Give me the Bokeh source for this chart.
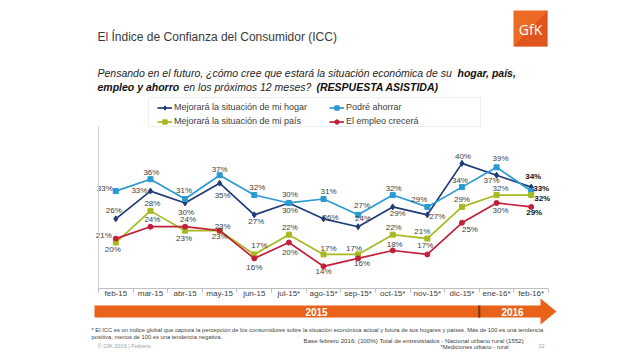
from bokeh.plotting import figure
from bokeh.models import (Range1d, FixedTicker, Legend, LegendItem, Label,
                          BoxAnnotation, PolyAnnotation, ColumnDataSource)
from bokeh.core.properties import value
from bokeh.embed import file_html
from bokeh.resources import INLINE

# ---------------- data ----------------
months = ["feb-15", "mar-15", "abr-15", "may-15", "jun-15", "jul-15*", "ago-15*",
          "sep-15*", "oct-15*", "nov-15*", "dic-15*", "ene-16*", "feb-16*"]
hogar = [26, 33, 30, 35, 27, 30, 26, 24, 29, 27, 40, 37, 34]
ahorro = [33, 36, 31, 37, 32, 30, 31, 27, 32, 29, 34, 39, 33]
pais = [20, 28, 23, 23, 17, 22, 17, 17, 22, 21, 29, 32, 32]
empleo = [21, 24, 24, 23, 16, 20, 14, 16, 18, 17, 25, 30, 29]
series_names = ["Mejorará la situación de mi hogar", "Podré ahorrar",
                "Mejorará la situación de mi país", "El empleo crecerá"]
years = ["2015", "2016"]

# ---------------- label placement (screen px, +dy = down) ----------------
off_hogar = [(-2, -8), (-11, -1), (1, 10), (3, 12), (2, 7), (1, 8), (7, -1),
             (5, -8), (5, 7), (10, 2), (1, -7), (-5, 5), (2, -11)]
off_ahorro = [(-11, -3), (1, -7), (-1, -8), (0, -6), (3, -8), (1, -8), (5, -7),
              (4, -9), (1, -7), (-8, -7), (-2, -7), (4, -9), (10, -3)]
off_pais = [(-3, 7), (2, -7), (-1, 8), (0, 6), (5, -9), (1, -7), (5, -6),
            (-4, -6), (1, -7), (-5, -7), (0, -7), (4, -7), (11, 3)]
off_empleo = [(-12, -3), (2, -7), (3, -7), (3, -4), (0, 9), (1, 10), (0, 5),
              (4, 5), (2, -6), (-2, -9), (8, 7), (4, 8), (3, 6)]

colors = ["#1F3C78", "#2B9AD3", "#A7B91F", "#C21F3A"]
markers = ["diamond", "square", "square", "circle"]
msizes = [6, 5, 5, 5]

# ---------------- page geometry ----------------
W, H = 632, 349
PL, PR, PB = 98, 548, 288          # chart area left / right / bottom (px)
YMIN, YMAX = 8.4, 48.8             # value span of the chart area
PX_PER_UNIT = 160 / (YMAX - YMIN)
n = len(months)
CAT = (PR - PL) / n
x0 = -0.5 - PL / CAT
x1 = n - 0.5 + (W - PR) / CAT
y0 = YMIN - (H - PB) / PX_PER_UNIT
y1 = YMIN + PB / PX_PER_UNIT

p = figure(width=W, height=H, x_range=Range1d(x0, x1), y_range=Range1d(y0, y1),
           output_backend="svg", toolbar_location=None,
           min_border_left=0, min_border_right=0, min_border_top=0, min_border_bottom=0)
p.title.visible = False
p.outline_line_color = None
p.xgrid.visible = False
p.ygrid.visible = False
p.background_fill_color = "white"
p.border_fill_color = "white"

xs = list(range(n))
xa = p.xaxis[0]
xa.fixed_location = YMIN
xa.bounds = (-0.5, n - 0.5)
xa.ticker = FixedTicker(ticks=xs, minor_ticks=[i - 0.5 for i in range(n + 1)])
xa.major_label_overrides = {i: m for i, m in enumerate(months)}
xa.major_tick_out = 0
xa.major_tick_in = 0
xa.minor_tick_out = 4
xa.minor_tick_in = 0
xa.axis_line_color = "#BFBFBF"
xa.minor_tick_line_color = "#BFBFBF"
xa.major_label_text_font = "Liberation Sans"
xa.major_label_text_font_size = "8px"
xa.major_label_text_color = "#404040"
xa.major_label_standoff = -4

ya = p.yaxis[0]
ya.fixed_location = -0.5
ya.bounds = (YMIN, YMIN + (PB - 126) / PX_PER_UNIT)
ya.ticker = FixedTicker(ticks=[])
ya.axis_line_color = "#D0D0D0"
ya.major_tick_line_color = None
ya.minor_tick_line_color = None

all_vals = [hogar, ahorro, pais, empleo]
all_offs = [off_hogar, off_ahorro, off_pais, off_empleo]
items = []
lab = dict(x=[], y=[], text=[], dx=[], dy=[], style=[], color=[])
for name, vals, offs, col, mk, ms in zip(series_names, all_vals, all_offs, colors, markers, msizes):
    rl = p.line(xs, vals, line_color=col, line_width=1.7)
    rm = p.scatter(xs, vals, marker=mk, size=ms, fill_color=col, line_color=col)
    items.append(LegendItem(label=name, renderers=[rl, rm]))
    last = len(vals) - 1
    for i, v in enumerate(vals):
        lab["x"].append(xs[i])
        lab["y"].append(v)
        lab["text"].append(f"{v}%")
        lab["dx"].append(offs[i][0])
        lab["dy"].append(offs[i][1])
        lab["style"].append("bold" if i == last else "normal")
        lab["color"].append("#111111" if i == last else "#404040")

src = ColumnDataSource(lab)
p.text(x="x", y="y", text="text", x_offset="dx", y_offset="dy", source=src,
       text_font=value("Liberation Sans"), text_font_size=value("8px"),
       text_font_style="style", text_color="color",
       text_align="center", text_baseline="middle")


def scr(X, Y):
    """page px (from top-left) -> frame screen units"""
    return X, H - Y


# legend
legend = Legend(items=items, location=scr(157, 126.5), orientation="horizontal", ncols=2,
                label_text_font="Liberation Sans", label_text_font_size="9px",
                label_text_color="#404040", glyph_width=15, glyph_height=11,
                label_height=11, label_width=152, label_standoff=2, spacing=3,
                padding=2, margin=0, border_line_color=None,
                background_fill_alpha=0)
p.add_layout(legend)
p.add_layout(BoxAnnotation(left=148, right=480, top=H - 97, bottom=H - 126,
                           left_units="screen", right_units="screen",
                           top_units="screen", bottom_units="screen",
                           fill_color=None, line_color="#C8C8C8", line_width=1))


def txt(t, X, Y, size, style="normal", color="#404040", align="left", font="Liberation Sans"):
    sx, sy = scr(X, Y)
    p.add_layout(Label(x=sx, y=sy, x_units="screen", y_units="screen", text=t,
                       text_font=font, text_font_size=size, text_font_style=style,
                       text_color=color, text_align=align, text_baseline="middle"))


# title & subtitle
SUB = "10.5px"
txt("El Índice de Confianza del Consumidor (ICC)", 97, 36, "12px", color="#3A3A3A")
txt("Pensando en el futuro, ¿cómo cree que estará la situación económica de su",
    97, 72, SUB, "italic", "#262626")
txt("hogar, país,", 457, 72, SUB, "bold italic", "#111111")
txt("empleo y ahorro", 97, 86, SUB, "bold italic", "#111111")
txt("en los próximos 12 meses?", 183, 86, SUB, "italic", "#262626")
txt("(RESPUESTA  ASISTIDA)", 316, 86, SUB, "bold italic", "#111111")

# GfK logo
p.add_layout(BoxAnnotation(left=513, right=547, top=H - 10, bottom=H - 46,
                           left_units="screen", right_units="screen",
                           top_units="screen", bottom_units="screen",
                           fill_color="#EC6B24", fill_alpha=1, line_color=None))
p.add_layout(PolyAnnotation(xs=[547, 547, 513], ys=[H - 10, H - 46, H - 46],
                            xs_units="screen", ys_units="screen",
                            fill_color="#D8461C", fill_alpha=0.6, line_color=None))
txt("GfK", 530, 29, "14px", "normal", "white", "center", "Open Sans")

# orange time arrow
orange = "#E8621A"
ax = [94, 540, 540, 556, 540, 540, 94]
ay = [305, 305, 298, 311, 324, 317, 317]
p.add_layout(PolyAnnotation(xs=ax, ys=[H - b for b in ay],
                            xs_units="screen", ys_units="screen",
                            fill_color=orange, fill_alpha=1, line_color=None))
p.add_layout(BoxAnnotation(left=n - 2.53, right=n - 2.47, top=H - 305, bottom=H - 317,
                           left_units="data", right_units="data",
                           top_units="screen", bottom_units="screen",
                           fill_color="#7A3510", fill_alpha=1, line_color=None))
txt(years[0], 316, 311, "10px", "bold", "white", "center")
txt(years[1], 512, 311, "10px", "bold", "white", "center")

# footnotes
txt("* El ICC es un índice global que captura la percepción de los consumidores sobre la "
    "situación económica actual y futura de sus hogares y países. Más de 100 es una tendencia",
    91, 329, "5.8px", color="#404040")
txt("positiva, menos de 100 es una tendencia negativa.", 91, 336, "5.8px", color="#404040")
txt("Base febrero 2016: (100%) Total de entrevistados - Nacional urbano rural  (1552)",
    303, 340, "6.2px", color="#404040")
txt("© GfK 2016 | Febrero", 97, 345, "5.6px", color="#A0A0A0")
txt("12", 538, 345, "5.6px", color="#A0A0A0")
txt("*Mediciones urbano - rural", 440, 346, "5.8px", color="#404040")

open("out.html", "w").write(file_html(p, INLINE))
